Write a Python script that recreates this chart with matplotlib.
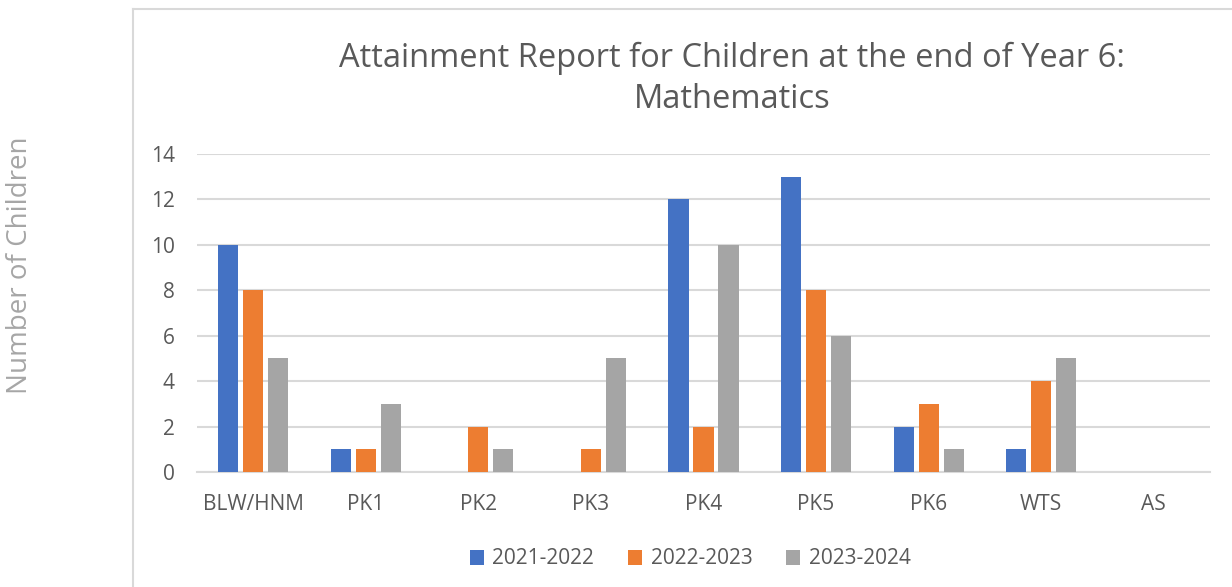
import matplotlib.pyplot as plt
import numpy as np
from matplotlib.lines import Line2D

plt.rcParams["font.family"] = ["Open Sans", "DejaVu Sans"]

categories = ["BLW/HNM", "PK1", "PK2", "PK3", "PK4", "PK5", "PK6", "WTS", "AS"]
series_names = ["2021-2022", "2022-2023", "2023-2024"]
y2122 = [10, 1, 0, 0, 12, 13, 2, 1, 0]
y2223 = [8, 1, 2, 1, 2, 8, 3, 4, 0]
y2324 = [5, 3, 1, 5, 10, 6, 1, 5, 0]
colors = ["#4472C4", "#ED7D31", "#A5A5A5"]
text_grey = "#595959"
line_grey = "#D9D9D9"

fig = plt.figure(figsize=(12.32, 5.87), dpi=100)
ax = fig.add_axes([197 / 1232, 1 - 472 / 587, (1210 - 197) / 1232, (472 - 154) / 587])

x = np.arange(len(categories))
width = 0.178
step = 0.222
for i, (vals, name) in enumerate(zip([y2122, y2223, y2324], series_names)):
    ax.bar(x + (i - 1) * step, vals, width, color=colors[i], label=name, zorder=3)

ax.set_xlim(-0.5, len(categories) - 0.5)
ax.set_ylim(0, 14)
ax.set_yticks(range(0, 15, 2))
ax.set_xticks(x)
ax.set_xticklabels(categories)
ax.tick_params(axis="both", length=0, labelsize=15, colors=text_grey)
ax.tick_params(axis="x", pad=16)
ax.tick_params(axis="y", pad=16)
ax.grid(axis="y", color=line_grey, linewidth=1.5, zorder=0)
for s in ["top", "right", "left"]:
    ax.spines[s].set_visible(False)
ax.spines["bottom"].set_color(line_grey)
ax.spines["bottom"].set_linewidth(1.5)

fig.text(732 / 1232, 1 - 79 / 587,
         "Attainment Report for Children at the end of Year 6:\nMathematics",
         ha="center", va="center", fontsize=23.5, color=text_grey, linespacing=1.35)

fig.text(20 / 1232, 1 - 265 / 587, "Number of Children", rotation=90,
         ha="center", va="center", fontsize=20, color="#A6A6A6")

ax.legend(loc="center", bbox_to_anchor=(690 / 1232, 1 - 559 / 587),
          bbox_transform=fig.transFigure, ncol=3, frameon=False,
          fontsize=15, labelcolor=text_grey, handlelength=0.7, handleheight=0.7,
          columnspacing=1.6, handletextpad=0.4)

# chart border (left and top edges visible)
fig.add_artist(Line2D([133 / 1232, 133 / 1232], [0, 1 - 9 / 587],
                      transform=fig.transFigure, color=line_grey, linewidth=1.5))
fig.add_artist(Line2D([133 / 1232, 1], [1 - 9 / 587, 1 - 9 / 587],
                      transform=fig.transFigure, color=line_grey, linewidth=1.5))

fig.savefig("out.png", dpi=100)
